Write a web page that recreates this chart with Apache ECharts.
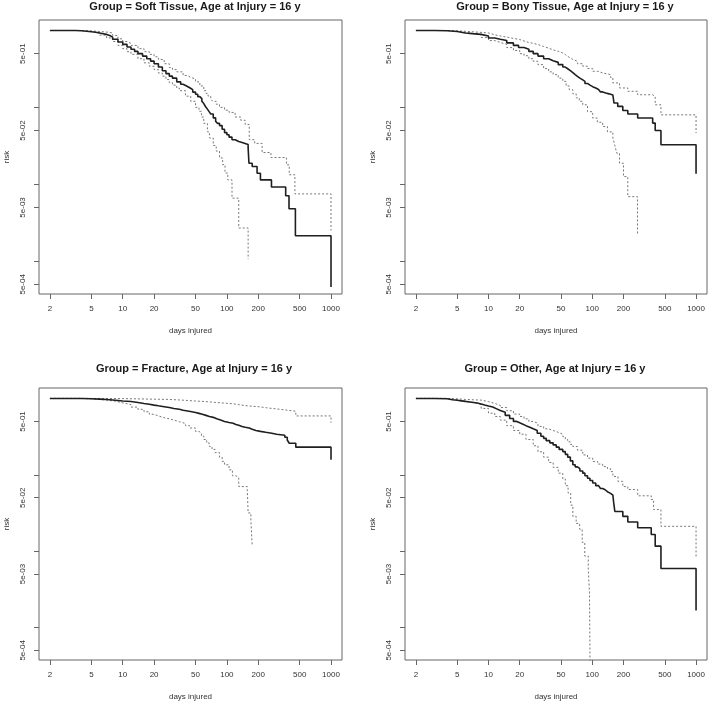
<!DOCTYPE html>
<html>
<head>
<meta charset="utf-8">
<script src="https://cdn.jsdelivr.net/npm/echarts@6/dist/echarts.min.js"></script>
<style>
  html, body { margin: 0; padding: 0; background: #fff; }
  #chart { width: 710px; height: 702px; }
</style>
</head>
<body>
<div id="chart"></div>
<script>
// ---- data (days injured, risk) ----
const panelTitles = [
  'Group = Soft Tissue, Age at Injury = 16 y',
  'Group = Bony Tissue, Age at Injury = 16 y',
  'Group = Fracture, Age at Injury = 16 y',
  'Group = Other, Age at Injury = 16 y'
];
const xTicks = [2, 5, 10, 20, 50, 100, 200, 500, 1000];
const yTicks = [5e-4, 1e-3, 5e-3, 1e-2, 5e-2, 1e-1, 5e-1];
const yTickLabels = [5e-4, 5e-3, 5e-2, 5e-1];
const xName = 'days injured';
const yName = 'risk';

const softEst = [[2,1],[3.5,0.995],[4,0.98],[4.5,0.965],[5,0.95],[5.5,0.93],[6,0.91],[6.5,0.89],[7,0.86],[7.5,0.82],[8,0.77],[9,0.71],[10,0.66],[11,0.61],[12,0.57],[13,0.535],[14,0.50],[15.5,0.465],[17,0.43],[18.5,0.40],[20,0.37],[22,0.335],[24,0.30],[26,0.275],[28,0.255],[30,0.24],[33,0.215],[36,0.20],[38,0.19],[41,0.18],[44,0.17],[47,0.158],[50,0.148],[52.5,0.138],[55,0.13],[57.5,0.12],[60,0.112],[62.5,0.102],[65,0.095],[67.5,0.088],[70,0.082],[74,0.073],[78,0.066],[81,0.062],[85,0.058],[90,0.052],[95,0.047],[100,0.044],[105,0.041],[112,0.038],[120,0.036],[130,0.035],[140,0.033],[160,0.0295],[163,0.0188],[175,0.017],[195,0.0139],[210,0.0114],[268,0.0092],[367,0.0071],[395,0.0048],[455,0.00214],[1000,0.00046]];
const softUp = [[2,1],[4,0.99],[5,0.97],[6,0.955],[7,0.93],[8,0.86],[9,0.78],[10,0.72],[11,0.68],[12,0.64],[14,0.58],[16,0.53],[18,0.49],[20,0.455],[22,0.42],[25,0.37],[28,0.33],[30,0.31],[33,0.29],[38,0.26],[42,0.245],[45,0.235],[50,0.215],[55,0.19],[60,0.165],[63,0.152],[66,0.14],[70,0.128],[73,0.12],[79,0.11],[85,0.10],[95,0.092],[105,0.086],[120,0.075],[136,0.068],[150,0.06],[164,0.038],[185,0.034],[218,0.0259],[265,0.0223],[373,0.0179],[397,0.0133],[450,0.0075],[1000,0.0025]];
const softLo = [[2,1],[4,0.97],[5,0.93],[6,0.87],[7,0.80],[8,0.72],[9,0.64],[10,0.58],[11,0.53],[12,0.49],[14,0.43],[16,0.38],[18,0.343],[20,0.31],[22,0.28],[24,0.255],[26,0.23],[28,0.21],[30,0.195],[33,0.178],[35,0.165],[40,0.14],[45,0.12],[50,0.10],[54,0.089],[57,0.075],[60,0.062],[65,0.048],[68,0.040],[74,0.032],[79,0.027],[85,0.022],[91,0.018],[96,0.014],[102,0.0114],[112,0.0066],[130,0.0027],[160,0.00106]];

const bonyEst = [[2,1],[3,0.995],[4,0.97],[5,0.93],[6,0.91],[7,0.89],[8.5,0.85],[10,0.80],[11.5,0.77],[13,0.74],[15,0.69],[17.4,0.64],[19.5,0.60],[22,0.57],[24.5,0.535],[27,0.50],[30,0.465],[34,0.43],[38,0.405],[42,0.385],[47,0.36],[52,0.335],[55,0.318],[58,0.30],[61.5,0.283],[65,0.267],[68.5,0.253],[72,0.24],[76,0.228],[81,0.218],[85,0.205],[90,0.195],[95,0.186],[101,0.179],[108,0.171],[115,0.165],[120,0.159],[126,0.154],[135,0.15],[145,0.145],[158,0.139],[162,0.114],[176,0.103],[197,0.091],[220,0.082],[274,0.0727],[382,0.0625],[404,0.05],[459,0.0326],[1000,0.0137]];
const bonyUp = [[2,1],[4,0.99],[5,0.97],[6.5,0.95],[8,0.93],[10,0.88],[11.5,0.85],[13,0.82],[15,0.79],[17.4,0.763],[20,0.73],[22,0.70],[24.5,0.68],[27,0.657],[30,0.62],[34,0.59],[38,0.56],[42,0.537],[47,0.51],[52,0.487],[55,0.46],[58,0.44],[61.5,0.42],[65,0.398],[72,0.37],[81,0.343],[90,0.32],[101,0.295],[113,0.28],[126,0.267],[150,0.245],[158,0.208],[183,0.179],[220,0.162],[274,0.146],[382,0.139],[404,0.108],[459,0.080],[1000,0.0464]];
const bonyLo = [[2,1],[4,0.98],[5,0.95],[6,0.92],[7,0.88],[8.5,0.81],[10,0.74],[11.5,0.70],[13,0.66],[15,0.60],[17.4,0.55],[20,0.50],[22,0.47],[24.5,0.43],[27,0.398],[30,0.36],[34,0.32],[38,0.29],[42,0.267],[47,0.24],[52,0.218],[56,0.19],[60,0.17],[65,0.15],[70,0.133],[75,0.12],[81,0.108],[90,0.088],[101,0.0727],[112,0.064],[126,0.0565],[140,0.048],[158,0.040],[165,0.032],[172,0.0254],[183,0.0188],[200,0.0126],[220,0.0069],[273,0.0022]];

const fracEst = [[2,1],[3,0.998],[4,0.99],[5,0.98],[6,0.97],[7,0.955],[8,0.94],[9,0.925],[10,0.91],[12,0.885],[14,0.86],[16,0.84],[18,0.818],[20,0.80],[22,0.78],[25,0.76],[28,0.74],[31,0.72],[35,0.70],[38,0.685],[42,0.67],[46,0.655],[50,0.637],[54,0.62],[58,0.60],[63,0.58],[68,0.565],[74,0.54],[80,0.52],[87,0.50],[95,0.485],[105,0.472],[115,0.455],[122,0.445],[130,0.43],[140,0.42],[150,0.41],[164,0.394],[175,0.38],[190,0.37],[210,0.36],[236,0.35],[270,0.34],[300,0.33],[360,0.31],[380,0.285],[397,0.259],[459,0.23],[1000,0.157]];
const fracUp = [[2,1],[5,0.995],[10,0.985],[15,0.978],[20,0.97],[28,0.955],[35,0.94],[42,0.925],[50,0.91],[62,0.89],[75,0.875],[88,0.862],[100,0.85],[115,0.83],[130,0.81],[145,0.795],[164,0.78],[200,0.755],[240,0.73],[295,0.705],[370,0.68],[459,0.59],[1000,0.48]];
const fracLo = [[2,1],[4,0.99],[5,0.97],[6,0.95],[7,0.92],[8.5,0.875],[10,0.83],[12,0.77],[14,0.72],[16,0.67],[18,0.62],[20,0.59],[22,0.56],[25,0.54],[28,0.52],[31,0.495],[35,0.47],[40,0.44],[44,0.41],[50,0.37],[54,0.35],[57,0.32],[60,0.29],[64,0.26],[68,0.234],[72,0.215],[77,0.195],[85,0.17],[90,0.15],[95,0.135],[105,0.116],[113,0.097],[122,0.092],[130,0.07],[157,0.064],[160,0.0316],[170,0.0255],[175,0.0117]];

const otherEst = [[2,1],[3,0.99],[4,0.96],[4.5,0.945],[5,0.93],[5.5,0.915],[6,0.90],[6.6,0.885],[7.2,0.87],[7.8,0.845],[8.5,0.82],[9.2,0.795],[10,0.77],[11,0.73],[12,0.695],[13,0.66],[14.5,0.60],[16,0.545],[17.4,0.50],[18.7,0.48],[20,0.46],[21.5,0.44],[23,0.42],[25,0.40],[27,0.38],[29.5,0.35],[32,0.32],[34,0.30],[36,0.28],[39,0.262],[42,0.246],[45,0.23],[48,0.215],[52,0.201],[55,0.185],[58,0.17],[61.5,0.152],[65,0.135],[68.5,0.127],[72,0.12],[76,0.112],[81,0.105],[85,0.097],[90,0.09],[95,0.084],[101,0.078],[108,0.072],[115,0.068],[120,0.066],[126,0.0636],[133,0.06],[140,0.057],[150,0.054],[158,0.052],[161,0.0428],[165,0.033],[197,0.0285],[220,0.024],[274,0.0202],[370,0.0165],[404,0.0116],[459,0.0059],[1000,0.00166]];
const otherUp = [[2,1],[4,0.99],[5,0.97],[6,0.96],[7.2,0.95],[8.5,0.91],[10,0.86],[11.5,0.81],[13,0.76],[15,0.69],[17.4,0.624],[20,0.58],[22,0.54],[24.5,0.50],[27,0.472],[30,0.43],[34,0.40],[38,0.38],[42,0.36],[47,0.34],[52,0.316],[55,0.29],[58,0.27],[61.5,0.25],[65,0.234],[72,0.21],[81,0.182],[90,0.165],[101,0.149],[113,0.138],[126,0.128],[140,0.12],[150,0.11],[158,0.095],[177,0.082],[197,0.07],[220,0.064],[274,0.053],[370,0.0473],[390,0.035],[459,0.0211],[1000,0.0082]];
const otherLo = [[2,1],[4,0.96],[5,0.92],[6,0.88],[7.2,0.835],[8.5,0.74],[10,0.64],[11.5,0.58],[13,0.52],[15,0.44],[17.4,0.38],[20,0.34],[23,0.29],[27,0.24],[30,0.20],[34,0.17],[38,0.145],[42,0.125],[47,0.105],[52,0.088],[55,0.072],[58.5,0.058],[62,0.04],[65,0.0285],[70,0.023],[75.6,0.0193],[80,0.013],[84.7,0.0086],[91.5,0.0058],[94,0.0029],[95.5,0.0002]];

const panelData = [
  [softEst, softUp, softLo],
  [bonyEst, bonyUp, bonyLo],
  [fracEst, fracUp, fracLo],
  [otherEst, otherUp, otherLo]
];

// ---- layout ----
const grids = [
  { left: 39, top: 20, width: 303, height: 274 },
  { left: 405, top: 20, width: 302, height: 274 },
  { left: 39, top: 388, width: 303, height: 274 },
  { left: 405, top: 388, width: 302, height: 274 }
];
const titleCenters = [195, 565, 194, 555];
const titleTops = [1, 1, 363, 363];

const FONT = 'Liberation Sans, Arial, sans-serif';
function fmtY(v) {
  const e = Math.floor(Math.log10(v) + 1e-9);
  const m = Math.round(v / Math.pow(10, e));
  const s = e < 0 ? '-' : '+';
  return m + 'e' + s + String(Math.abs(e)).padStart(2, '0');
}

const option = {
  animation: false,
  backgroundColor: '#fff',
  title: grids.map((g, i) => ({
    text: panelTitles[i],
    left: titleCenters[i],
    top: titleTops[i],
    textAlign: 'center',
    padding: 0,
    textStyle: { fontFamily: FONT, fontSize: 11, fontWeight: 'bold', color: '#1a1a1a' }
  })),
  grid: grids.map(g => Object.assign({ show: true, borderColor: '#666', borderWidth: 1, backgroundColor: 'transparent' }, g)),
  xAxis: grids.map((g, i) => ({
    type: 'log', logBase: 10, gridIndex: i, min: 1.57, max: 1275,
    name: xName, nameLocation: 'middle', nameGap: 33,
    nameTextStyle: { fontFamily: FONT, fontSize: 8, color: '#333' },
    axisLine: { show: false },
    splitLine: { show: false },
    axisTick: { show: true, length: 5, customValues: xTicks, lineStyle: { color: '#666' } },
    axisLabel: { customValues: xTicks, margin: 11, fontFamily: FONT, fontSize: 8, color: '#333', formatter: v => String(Math.round(v)) }
  })),
  yAxis: grids.map((g, i) => ({
    type: 'log', logBase: 10, gridIndex: i, min: 3.74e-4, max: 1.37,
    name: yName, nameLocation: 'middle', nameGap: 28, nameRotate: 90,
    nameTextStyle: { fontFamily: FONT, fontSize: 8, color: '#333' },
    axisLine: { show: false },
    splitLine: { show: false },
    axisTick: { show: true, length: 5, customValues: yTicks, lineStyle: { color: '#666' } },
    axisLabel: { customValues: yTickLabels, rotate: 90, margin: 12, fontFamily: FONT, fontSize: 8, color: '#333', formatter: v => fmtY(v) }
  })),
  series: []
};

panelData.forEach((curves, i) => {
  curves.forEach((d, k) => {
    option.series.push({
      type: 'line', xAxisIndex: i, yAxisIndex: i, data: d, step: 'end',
      showSymbol: false, symbol: 'none', clip: true, z: k === 0 ? 3 : 2,
      lineStyle: k === 0
        ? { color: '#1f1f1f', width: 1.6, type: 'solid' }
        : { color: '#777', width: 1, type: [2, 2] }
    });
  });
});

const chart = echarts.init(document.getElementById('chart'), null, { renderer: 'canvas' });
chart.setOption(option);
</script>
</body>
</html>
